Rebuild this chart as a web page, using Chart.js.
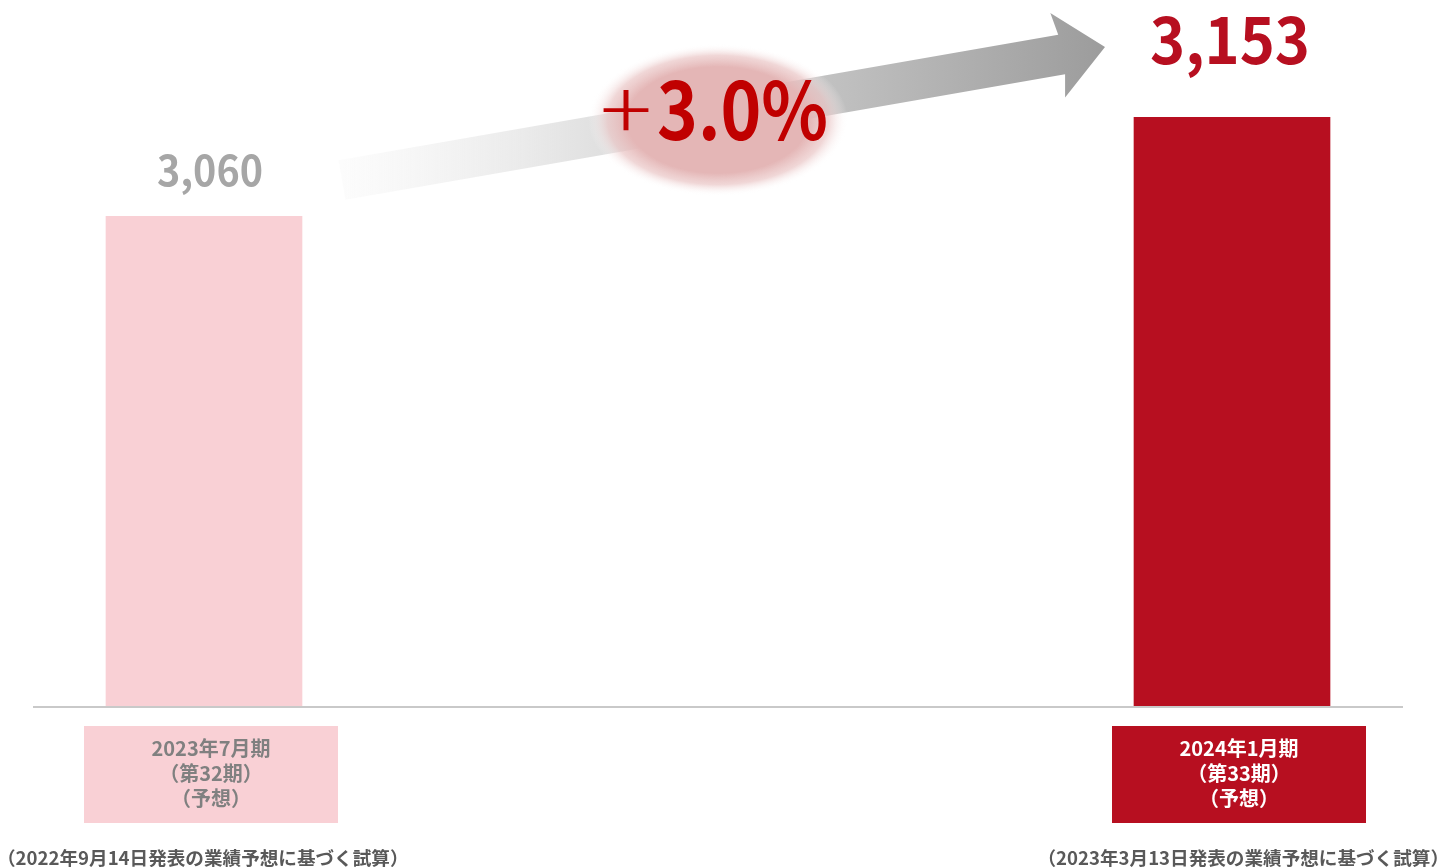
<!DOCTYPE html>
<html lang="ja">
<head>
<meta charset="utf-8">
<title>業績予想</title>
<script src="https://cdn.jsdelivr.net/npm/chart.js@4.4.1/dist/chart.umd.min.js"></script>
<style>
  html, body { margin: 0; padding: 0; background: #ffffff; }
  #wrap { position: relative; width: 1442px; height: 867px; }
</style>
</head>
<body>
<div id="wrap"><canvas id="chart"></canvas></div>
<script>
// --- Data ---
const categories = ['2023年7月期', '2024年1月期'];
const periodLabels = ['（第32期）', '（第33期）'];
const noteLabels = ['（予想）', '（予想）'];
const values = [3060, 3153];
const valueLabels = ['3,060', '3,153'];
const growthSign = '+';
const growthValue = '3.0%';
const footnotes = ['（2022年9月14日発表の業績予想に基づく試算）', '（2023年3月13日発表の業績予想に基づく試算）'];

// --- Styles ---
const barColors = ['#f9d0d5', '#b70f20'];
const valueStyles = [
  { color: '#a6a6a6', size: 42, gap: 30, dx: 6, width: 106 },
  { color: '#b70f20', size: 64, gap: 53, dx: -2, width: 160 }
];
const boxTextColors = ['#808080', '#ffffff'];
const FONT = '"Noto Sans CJK JP", "Noto Sans", sans-serif';

// draw text squeezed to a given width
function fitText(ctx, text, x, y, width) {
  const w = ctx.measureText(text).width;
  ctx.save();
  ctx.translate(x, y);
  ctx.scale(width / w, 1);
  ctx.fillText(text, 0, 0);
  ctx.restore();
}

// Baseline, value labels, category boxes, footnotes, growth arrow
const decorPlugin = {
  id: 'decor',
  afterDatasetsDraw(chart) {
    const ctx = chart.ctx;
    const area = chart.chartArea;
    const bars = chart.getDatasetMeta(0).data;
    ctx.save();

    // baseline
    ctx.strokeStyle = '#c9c9c9';
    ctx.lineWidth = 2;
    ctx.beginPath();
    ctx.moveTo(33, area.bottom + 1);
    ctx.lineTo(1403, area.bottom + 1);
    ctx.stroke();

    bars.forEach((bar, i) => {
      const st = valueStyles[i];
      ctx.fillStyle = st.color;
      ctx.font = `bold ${st.size}px ${FONT}`;
      ctx.textAlign = 'left';
      ctx.textBaseline = 'alphabetic';
      fitText(ctx, valueLabels[i], bar.x + st.dx - st.width / 2, bar.y - st.gap, st.width);

      // category box
      const cx = bar.x + 7;
      ctx.fillStyle = barColors[i];
      ctx.fillRect(cx - 127, area.bottom + 20, 254, 97);
      ctx.fillStyle = boxTextColors[i];
      ctx.font = `bold 20px ${FONT}`;
      ctx.textAlign = 'center';
      ctx.textBaseline = 'middle';
      ctx.fillText(categories[i], cx, area.bottom + 42);
      ctx.fillText(periodLabels[i], cx, area.bottom + 67);
      ctx.fillText(noteLabels[i], cx, area.bottom + 92);
    });

    // footnotes
    ctx.fillStyle = '#595959';
    ctx.font = `bold 18.6px ${FONT}`;
    ctx.textBaseline = 'middle';
    ctx.textAlign = 'left';
    ctx.fillText(footnotes[0], -3, 858);
    ctx.textAlign = 'right';
    ctx.fillText(footnotes[1], 1449, 858);

    // growth arrow
    const tail = { x: 342, y: 180 };
    const tip = { x: 1105, y: 47 };
    const dx = tip.x - tail.x, dy = tip.y - tail.y;
    const len = Math.hypot(dx, dy);
    const ux = dx / len, uy = dy / len;
    const nx = -uy, ny = ux;
    const sw = 20, hw = 43, hl = 48;
    const bx = tip.x - hl * ux, by = tip.y - hl * uy;
    const grad = ctx.createLinearGradient(tail.x, 0, tip.x, 0);
    grad.addColorStop(0, 'rgba(250,250,250,0.6)');
    grad.addColorStop(0.3, '#e4e4e4');
    grad.addColorStop(1, '#9c9c9c');
    ctx.fillStyle = grad;
    ctx.beginPath();
    ctx.moveTo(tail.x - sw * nx, tail.y - sw * ny);
    ctx.lineTo(bx + 4 * ux - sw * nx, by + 4 * uy - sw * ny);
    ctx.lineTo(bx - hw * nx, by - hw * ny);
    ctx.lineTo(tip.x, tip.y);
    ctx.lineTo(bx + hw * nx, by + hw * ny);
    ctx.lineTo(bx + 4 * ux + sw * nx, by + 4 * uy + sw * ny);
    ctx.lineTo(tail.x + sw * nx, tail.y + sw * ny);
    ctx.closePath();
    ctx.fill();

    // glow behind the growth rate
    ctx.save();
    ctx.translate(718, 120);
    ctx.scale(1, 76 / 130);
    const glow = ctx.createRadialGradient(0, 0, 0, 0, 0, 130);
    glow.addColorStop(0, 'rgba(228,182,182,1)');
    glow.addColorStop(0.7, 'rgba(228,182,182,1)');
    glow.addColorStop(0.85, 'rgba(234,198,198,0.7)');
    glow.addColorStop(1, 'rgba(255,255,255,0)');
    ctx.fillStyle = glow;
    ctx.beginPath();
    ctx.arc(0, 0, 130, 0, Math.PI * 2);
    ctx.fill();
    ctx.restore();

    // growth text
    ctx.fillStyle = '#c00000';
    ctx.textAlign = 'left';
    ctx.textBaseline = 'alphabetic';
    ctx.font = `300 82px ${FONT}`;
    fitText(ctx, growthSign, 600, 140, 52);
    ctx.font = `bold 80px ${FONT}`;
    fitText(ctx, growthValue, 657, 140, 171);
    ctx.restore();
  }
};

new Chart(document.getElementById('chart'), {
  type: 'bar',
  data: {
    labels: categories,
    datasets: [{
      data: values,
      backgroundColor: barColors,
      barThickness: 196,
      clip: { left: false, right: false, top: 0, bottom: 0 }
    }]
  },
  options: {
    responsive: true,
    maintainAspectRatio: false,
    animation: false,
    layout: { padding: { left: 204, right: 210, top: 14, bottom: 161 } },
    plugins: { legend: { display: false }, tooltip: { enabled: false } },
    scales: {
      x: { display: false, offset: false },
      y: { display: false, min: 2600, max: 3250 }
    }
  },
  plugins: [decorPlugin]
});
</script>
</body>
</html>
